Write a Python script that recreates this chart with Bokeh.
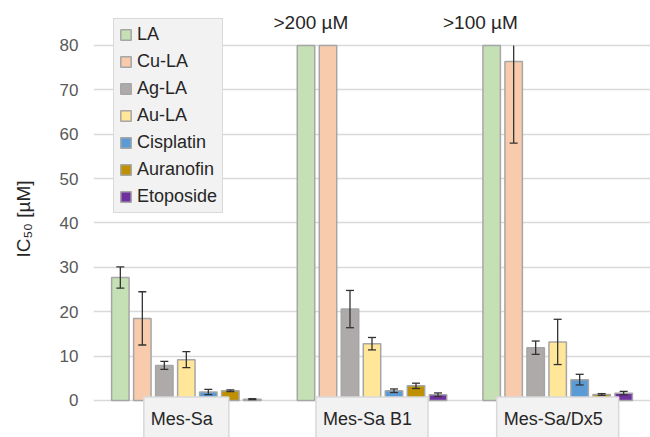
import numpy as np
from bokeh.plotting import figure
from bokeh.models import Range1d, Legend, LegendItem, Label, FixedTicker
from bokeh.embed import file_html
from bokeh.resources import INLINE

# ---- data ----
cell_lines = ["Mes-Sa", "Mes-Sa B1", "Mes-Sa/Dx5"]
compounds = ["LA", "Cu-LA", "Ag-LA", "Au-LA", "Cisplatin", "Auranofin", "Etoposide"]
colors = ["#C5E0B4", "#F8CBAD", "#AEAAAA", "#FFE699", "#5B9BD5", "#BF9000", "#7030A0"]

la = [27.7, 200.0, 100.0]
cu_la = [18.5, 200.0, 76.4]
ag_la = [7.9, 20.6, 11.9]
au_la = [9.2, 12.8, 13.2]
cisplatin = [1.9, 2.2, 4.7]
auranofin = [2.2, 3.3, 1.35]
etoposide = [0.3, 1.3, 1.65]

la_err = [2.4, 0.0, 0.0]
cu_la_err = [6.0, 0.0, 18.4]
ag_la_err = [0.9, 4.2, 1.5]
au_la_err = [1.8, 1.4, 5.1]
cisplatin_err = [0.6, 0.4, 1.2]
auranofin_err = [0.2, 0.6, 0.2]
etoposide_err = [0.1, 0.4, 0.4]

off_scale_labels = [">200 µM", ">100 µM"]
y_ticks = [0, 10, 20, 30, 40, 50, 60, 70, 80]

values = [la, cu_la, ag_la, au_la, cisplatin, auranofin, etoposide]
errors = [la_err, cu_la_err, ag_la_err, au_la_err, cisplatin_err, auranofin_err, etoposide_err]

FONT = "Liberation Sans"
y_max = y_ticks[-1]

p = figure(width=650, height=437, output_backend="svg", toolbar_location=None,
           x_range=Range1d(0, 3), y_range=Range1d(-8.34, 90.14),
           min_border_left=93, min_border_right=0, min_border_top=0, min_border_bottom=0)
p.outline_line_color = None
p.background_fill_color = "white"
p.border_fill_color = "white"

# axes
p.xaxis.visible = False
p.xgrid.visible = False
p.yaxis.ticker = FixedTicker(ticks=y_ticks)
p.yaxis.axis_line_color = None
p.yaxis.major_tick_line_color = None
p.yaxis.minor_tick_line_color = None
p.yaxis.major_label_text_font = FONT
p.yaxis.major_label_text_font_size = "17px"
p.yaxis.major_label_text_color = "#595959"
p.yaxis.major_label_standoff = 9
p.yaxis.axis_label = "IC₅₀ [µM]"
p.yaxis.axis_label_text_font = FONT
p.yaxis.axis_label_text_font_size = "19px"
p.yaxis.axis_label_text_font_style = "normal"
p.yaxis.axis_label_text_color = "#262626"
p.yaxis.axis_label_standoff = 23
p.ygrid.grid_line_color = "#D9D9D9"
p.ygrid.grid_line_width = 1.5

group_centers = np.arange(len(cell_lines)) + 0.5
step = 0.1185
bar_w = 0.094
cap_half = 0.0215

items = []
for i, (name, col, vals, errs) in enumerate(zip(compounds, colors, values, errors)):
    xs = group_centers + (i - 3) * step
    v = np.array(vals)
    e = np.array(errs)
    r = p.vbar(x=xs, top=np.minimum(v, y_max), width=bar_w, bottom=0, fill_color=col,
               line_color="#A6A6A6", line_width=1.5)
    items.append(LegendItem(label=name, renderers=[r]))
    m = e > 0
    if m.any():
        xm = xs[m]
        lo = v[m] - e[m]
        hi = np.minimum(v[m] + e[m], y_max)
        full = (v[m] + e[m]) <= y_max
        p.segment(x0=xm, y0=lo, x1=xm, y1=hi, line_color="#333333", line_width=1.3)
        p.segment(x0=xm - cap_half, y0=lo, x1=xm + cap_half, y1=lo, line_color="#333333", line_width=1.3)
        p.segment(x0=(xm - cap_half)[full], y0=hi[full], x1=(xm + cap_half)[full], y1=hi[full],
                  line_color="#333333", line_width=1.3)

legend = Legend(items=items, location=(20, 224), orientation="vertical",
                background_fill_color="#F2F2F2", background_fill_alpha=1,
                border_line_color="#BFBFBF", border_line_width=1.2,
                label_text_font=FONT, label_text_font_size="18px",
                label_text_color="#262626",
                glyph_width=13, glyph_height=13, label_height=20, label_standoff=5,
                spacing=6, padding=5, margin=0)
p.add_layout(legend, "center")

# category labels in boxes below the plot
for c, name in zip(group_centers, cell_lines):
    p.add_layout(Label(x=c, y=-4.6, text=name, text_align="center", text_baseline="middle",
                       text_font=FONT, text_font_size="18px", text_color="#262626",
                       background_fill_color="#F2F2F2", background_fill_alpha=1,
                       border_line_color="#D9D9D9", border_line_width=1.5,
                       padding=(7, 16, 12, 16)))

# off-scale annotations
off_x = [group_centers[1] - 0.329, group_centers[2] - 0.416]
for x, t in zip(off_x, off_scale_labels):
    p.add_layout(Label(x=x, y=85.2, text=t, text_align="center", text_baseline="middle",
                       text_font=FONT, text_font_size="19px", text_color="#262626"))

open("out.html", "w").write(file_html(p, INLINE))
